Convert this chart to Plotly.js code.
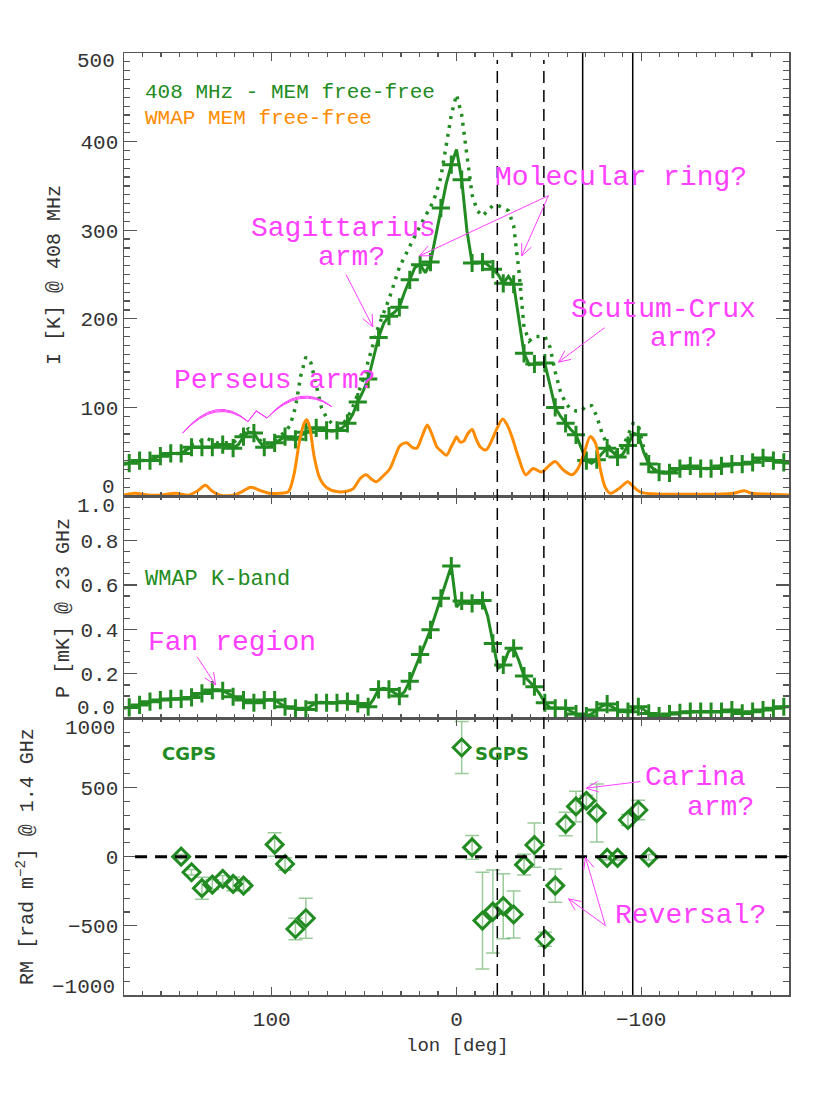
<!DOCTYPE html>
<html>
<head>
<meta charset="utf-8">
<script src="https://cdn.plot.ly/plotly-3.0.1.min.js"></script>
<style>
  body { margin: 0; background: #fff; }
</style>
</head>
<body>
<div id="chart" style="width:830px;height:1106px"></div>
<script>
// longitude sampling: 180 -> -180 every 2.8125 deg, "+" marks on odd samples
const lonStep = 2.8125
const lonGrid = Array.from({ length: 129 }, (_, j) => 180 - j * lonStep)

// top panel: 408 MHz minus MEM free-free (solid) and the 408 MHz total (dotted)
const I408 = [36, 37, 39, 40, 40, 40, 43, 45, 47, 48, 48, 48, 52, 55, 55, 55, 55, 55, 57, 58,
  56, 54, 58, 67, 72, 71, 62, 55, 56, 60, 64, 67, 65, 64, 68, 72, 75, 77, 75, 74,
  73, 74, 77, 82, 92, 106, 118, 132, 155, 179, 195, 203, 207, 213, 230, 244, 258, 261, 252, 264,
  293, 325, 352, 374, 391, 357, 300, 263, 263, 264, 261, 256, 250, 240, 248, 239, 200, 161, 148, 149,
  149, 150, 125, 100, 90, 82, 75, 69, 55, 40, 37, 41, 48, 54, 50, 44, 47, 57, 71, 69,
  50, 36, 30, 27, 26, 26, 28, 31, 33, 34, 32, 31, 31, 31, 33, 34, 35, 36, 36, 36,
  37, 38, 41, 43, 42, 40, 39, 38, 37]
const I408total = [36, 37, 39, 40, 40, 40, 43, 45, 47, 48, 48, 48, 52, 58, 60, 63, 65, 62, 60, 60,
  60, 60, 65, 72, 76, 73, 64, 58, 60, 64, 68, 72, 80, 100, 135, 157, 150, 125, 100, 88,
  82, 78, 80, 88, 100, 115, 131, 152, 173, 192, 207, 222, 240, 258, 270, 282, 295, 305, 316, 326,
  340, 360, 395, 430, 453, 430, 385, 340, 322, 316, 322, 328, 328, 325, 322, 305, 255, 190, 175, 180,
  180, 180, 168, 140, 118, 105, 98, 96, 96, 102, 102, 90, 71, 58, 52, 48, 55, 68, 82, 80,
  55, 37, 30, 27, 26, 26, 28, 31, 33, 34, 32, 31, 31, 31, 33, 34, 35, 36, 36, 36,
  37, 38, 41, 43, 42, 40, 39, 38, 37]

// WMAP MEM free-free
const wmapLon = [180, 174, 167, 160, 152, 145, 140, 136, 132, 128, 121, 116, 111.5, 106, 101, 96, 91, 88, 85, 82.5,
  81, 79.5, 77, 74, 70, 65, 60, 56, 52, 49, 46, 43.5, 40, 36, 33, 30.5, 27, 24, 21.5, 18.5,
  15.8, 13, 10.5, 8, 5.4, 3, 1, 0, -1.8, -4, -6, -8.5, -10.5, -13, -16, -18.5, -21, -25, -27.5, -30,
  -33.5, -37.5, -41.5, -46, -50, -53.4, -58, -62.5, -65.5, -69, -72.4, -75.2, -78, -80.5, -83.3, -87, -90, -92.7, -96, -100,
  -110, -120, -130, -140, -150, -155.8, -160, -170, -180]
const wmapFF = [1, 3, 1, 1, 3, 1, 6, 12, 5, 1, 1, 5, 10, 6, 3, 3, 5, 24, 62, 82,
  86, 78, 44, 20, 9, 5, 5, 8, 20, 24, 19, 16, 22, 31, 46, 57, 60, 55, 54, 68,
  80, 68, 55, 50, 46, 55, 63, 67, 61, 62, 70, 75, 65, 55, 52, 60, 72, 87, 80, 67,
  44, 24, 31, 27, 34, 39, 29, 24, 30, 48, 67, 60, 29, 10, 3, 7, 12, 16, 10, 4,
  2, 2, 2, 2, 3, 6, 3, 2, 1]

// middle panel: WMAP K-band polarized intensity
const polK = [0.045, 0.049, 0.055, 0.060, 0.068, 0.075, 0.079, 0.082, 0.085, 0.087, 0.087, 0.087, 0.090, 0.094, 0.103, 0.112, 0.122, 0.127, 0.128, 0.124,
  0.112, 0.097, 0.088, 0.082, 0.075, 0.070, 0.076, 0.082, 0.085, 0.082, 0.068, 0.052, 0.047, 0.045, 0.040, 0.040, 0.055, 0.070, 0.072, 0.070,
  0.068, 0.070, 0.074, 0.075, 0.072, 0.067, 0.056, 0.052, 0.085, 0.130, 0.135, 0.130, 0.115, 0.100, 0.120, 0.167, 0.225, 0.287, 0.340, 0.398,
  0.470, 0.540, 0.620, 0.685, 0.500, 0.528, 0.520, 0.517, 0.525, 0.530, 0.460, 0.337, 0.225, 0.240, 0.300, 0.315, 0.260, 0.190, 0.165, 0.142,
  0.110, 0.070, 0.048, 0.045, 0.045, 0.045, 0.032, 0.019, 0.012, 0.010, 0.020, 0.037, 0.055, 0.064, 0.050, 0.037, 0.032, 0.030, 0.042, 0.052,
  0.040, 0.022, 0.014, 0.010, 0.012, 0.019, 0.022, 0.025, 0.028, 0.030, 0.030, 0.030, 0.030, 0.030, 0.030, 0.030, 0.034, 0.037, 0.030, 0.022,
  0.025, 0.030, 0.034, 0.037, 0.041, 0.045, 0.049, 0.052, 0.053]

// bottom panel: rotation measures (CGPS / SGPS)
const rmLon = [149.06, 143.44, 137.81, 132.19, 126.56, 120.94, 115.31, 98.44, 92.81, 87.19, 81.56,
  -2.81, -8.44, -14.06, -19.69, -25.31, -30.94, -36.56, -42.19, -47.81, -53.44, -59.06, -64.69, -70.31,
  -75.94, -81.56, -87.19, -92.81, -98.44, -104.06]
const rmVal = [0, -113, -228, -202, -161, -197, -209, 87, -53, -523, -445,
  789, 67, -462, -397, -358, -418, -58, 84, -597, -209, 236, 363, 404,
  315, -9, -9, 265, 337, -5]
const rmErr = [15, 20, 80, 35, 25, 50, 35, 85, 45, 78, 144,
  188, 85, 350, 300, 235, 170, 75, 160, 50, 120, 85, 110, 40,
  210, 15, 15, 40, 70, 20]

// y tick values of each panel
const ticks1 = [0, 100, 200, 300, 400, 500]
const ticks2 = [0, 0.2, 0.4, 0.6, 0.8, 1.0]
const ticks3 = [-1000, -500, 0, 500, 1000]

// vertical reference longitudes
const dashedLon = [-22.1, -47.3]
const solidLon = [-68.3, -95.4]

const green = "#228b22"
const orange = "#ff8c00"
const magenta = "#ff40ff"
const ink = "#333"
const mono = "Liberation Mono, Courier New, monospace"

// pixel frame of the plot area
const L = 124, R = 789, T = 53, B = 995
const cut1 = 496, cut2 = 718.3
const px = (x) => (x - L) / (R - L)
const py = (y) => (B - y) / (B - T)

const panelPx = { y: cut1 - T, y2: cut2 - cut1, y3: B - cut2 }
const panelRange = { y: [0, 500], y2: [0, 1], y3: [-1000, 1000] }
const pxPerDeg = (R - L) / 360

// thin line arrow with an open V head, drawn as shapes in data coords
function arrow(yref, tail, head) {
  const xref = yref.replace("y", "x")
  const ky = panelPx[yref] / (panelRange[yref][1] - panelRange[yref][0])
  const dx = -(head[0] - tail[0]) * pxPerDeg
  const dy = -(head[1] - tail[1]) * ky
  const ang = Math.atan2(dy, dx)
  const arm = 13, spread = 0.42
  const ends = [ang + Math.PI - spread, ang + Math.PI + spread].map((a) => [
    head[0] - (Math.cos(a) * arm) / pxPerDeg,
    head[1] - (Math.sin(a) * arm) / ky,
  ])
  const style = { color: magenta, width: 1 }
  return [
    { type: "line", xref, yref, x0: tail[0], y0: tail[1], x1: head[0], y1: head[1], line: style },
    {
      type: "path", xref, yref, line: style,
      path: `M${ends[0][0]},${ends[0][1]} L${head[0]},${head[1]} L${ends[1][0]},${ends[1][1]}`,
    },
  ]
}

const markerSize = lonGrid.map((_, j) => (j % 2 ? 13 : 0))
const plusMarker = { symbol: "cross-thin", size: markerSize, opacity: 1, line: { color: green, width: 3 } }

const traces = [
  {
    x: lonGrid, y: I408total, xaxis: "x", yaxis: "y", mode: "lines",
    line: { color: green, width: 3.5, dash: "3px,6px" },
  },
  {
    x: lonGrid, y: I408, xaxis: "x", yaxis: "y", mode: "lines+markers",
    line: { color: green, width: 3 }, marker: plusMarker,
  },
  {
    x: wmapLon, y: wmapFF, xaxis: "x", yaxis: "y", mode: "lines",
    line: { color: orange, width: 3, shape: "spline", smoothing: 0.8 },
  },
  {
    x: lonGrid, y: polK, xaxis: "x2", yaxis: "y2", mode: "lines+markers",
    line: { color: green, width: 3 }, marker: plusMarker,
  },
  {
    x: rmLon, y: rmVal, xaxis: "x3", yaxis: "y3", mode: "markers",
    marker: { symbol: "diamond-open", size: 13, color: green, line: { color: green, width: 3 } },
    error_y: { type: "data", array: rmErr, visible: true, color: "rgba(34,139,34,0.45)", thickness: 1.5, width: 7 },
  },
]

const axisBase = {
  showline: true, linecolor: "#555", linewidth: 1.5, mirror: "allticks",
  ticks: "inside", tickcolor: "#555", tickwidth: 1.2,
  showgrid: false, zeroline: false,
  tickfont: { family: mono, size: 21, color: ink },
}
const xBase = {
  ...axisBase, range: [180, -180], tickmode: "linear", tick0: 0, dtick: 100, ticklen: 8,
  minor: { tickmode: "linear", tick0: 0, dtick: 10, ticklen: 4, ticks: "inside", tickcolor: "#555" },
  showticklabels: false,
}

// end labels of each panel are drawn as annotations, nudged inward as in the original
const fmt = (v, d) => (v < 0 ? "\u2212" : "") + Math.abs(v).toFixed(d)
function yAxis(domain, range, vals, digits, minorStep) {
  return {
    ...axisBase, domain, range, tickmode: "array", tickvals: vals, ticklen: 13,
    ticktext: vals.map((v, i) => (i === 0 || i === vals.length - 1 ? "" : fmt(v, digits))),
    minor: { tickmode: "linear", tick0: 0, dtick: minorStep, ticklen: 6, ticks: "inside", tickcolor: "#555" },
  }
}

const shapes = []
dashedLon.forEach((lon) => shapes.push({
  type: "line", xref: "x", yref: "paper", x0: lon, x1: lon, y0: 0, y1: py(60),
  line: { color: "#000", width: 1.5, dash: "12px,7px" },
}))
solidLon.forEach((lon) => shapes.push({
  type: "line", xref: "x", yref: "paper", x0: lon, x1: lon, y0: 0, y1: 1,
  line: { color: "#000", width: 1.5 },
}))
shapes.push({
  type: "line", xref: "x3", yref: "y3", x0: 174, x1: -180, y0: 0, y1: 0,
  line: { color: "#000", width: 3, dash: "12px,8px" },
})

// Perseus arm bracket: triple arcs with a small zigzag in between
;[0, 2.5, 5].forEach((d) => {
  shapes.push({
    type: "path", xref: "x", yref: "y", line: { color: magenta, width: 1 },
    path: `M148.2,71 Q130,${112 + d} 112.9,84 L108.4,96 L102.6,88 Q85,${125 + d} 67.6,101`,
  })
})

shapes.push(
  ...arrow("y", [59.8, 250], [45.3, 191]),
  ...arrow("y", [-49.8, 339], [20, 271]),
  ...arrow("y", [-49.8, 339], [-35.3, 271]),
  ...arrow("y", [-80.2, 190], [-55.2, 151]),
  ...arrow("y2", [140.4, 0.277], [130.4, 0.15]),
  ...arrow("y3", [-99.6, 543], [-70.3, 495]),
  ...arrow("y3", [-80.6, -498], [-60.7, -305]),
  ...arrow("y3", [-80.6, -498], [-69.8, -5]),
)

function label(text, x, y, opts = {}) {
  return {
    text, xref: "paper", yref: "paper", x: px(x), y: py(y),
    xanchor: opts.anchor || "center", yanchor: "middle", showarrow: false,
    textangle: opts.angle || 0,
    font: {
      family: opts.family || mono, size: opts.size || 28,
      color: opts.color || magenta, weight: opts.weight || "normal",
    },
  }
}
const endLabel = (text, y) => label(text, 117, y, { anchor: "right", size: 21, color: ink })

const annotations = [
  label("408 MHz - MEM free-free", 143, 92, { anchor: "left", size: 21, color: green }),
  label("WMAP MEM free-free", 143, 119, { anchor: "left", size: 21, color: orange }),
  label("Sagittarius", 343, 229),
  label("arm?", 351, 258),
  label("Molecular ring?", 621, 178),
  label("Scutum-Crux", 663, 309),
  label("arm?", 683, 338),
  label("Perseus arm?", 275, 380),
  label("WMAP K-band", 143, 579, { anchor: "left", size: 22, color: green }),
  label("Fan region", 232, 642),
  label("CGPS", 189, 753, { family: "DejaVu Sans, Arial", size: 18, color: green, weight: "bold" }),
  label("SGPS", 502, 753, { family: "DejaVu Sans, Arial", size: 18, color: green, weight: "bold" }),
  label("Carina", 695, 777),
  label("arm?", 720, 807),
  label("Reversal?", 690, 915),
  label("I [K] @ 408 MHz", 55, 275, { angle: -90, size: 20, color: ink }),
  label("P [mK] @ 23 GHz", 63, 608, { angle: -90, size: 20, color: ink }),
  label("RM [rad m<sup>−2</sup>] @ 1.4 GHz", 26, 857, { angle: -90, size: 20, color: ink }),
  label("lon [deg]", 457, 1046, { size: 19, color: ink }),
  endLabel(fmt(ticks1[5], 0), 61),
  endLabel(fmt(ticks1[0], 0), 487),
  endLabel(fmt(ticks2[5], 1), 506),
  endLabel(fmt(ticks2[0], 1), 708),
  endLabel(fmt(ticks3[4], 0), 728),
  endLabel(fmt(ticks3[0], 0), 987),
]

const layout = {
  width: 830,
  height: 1106,
  margin: { l: L, r: 830 - R, t: T, b: 1106 - B },
  paper_bgcolor: "#fff",
  plot_bgcolor: "#fff",
  showlegend: false,
  xaxis: { ...xBase, anchor: "y" },
  xaxis2: { ...xBase, anchor: "y2", matches: "x" },
  xaxis3: { ...xBase, anchor: "y3", matches: "x", showticklabels: true, ticklabelstandoff: 4 },
  yaxis: yAxis([py(cut1), 1], panelRange.y, ticks1, 0, 10),
  yaxis2: yAxis([py(cut2), py(cut1)], panelRange.y2, ticks2, 1, 0.05),
  yaxis3: yAxis([0, py(cut2)], panelRange.y3, ticks3, 0, 100),
  shapes,
  annotations,
}

Plotly.newPlot("chart", traces, layout, { staticPlot: true })
</script>
</body>
</html>
